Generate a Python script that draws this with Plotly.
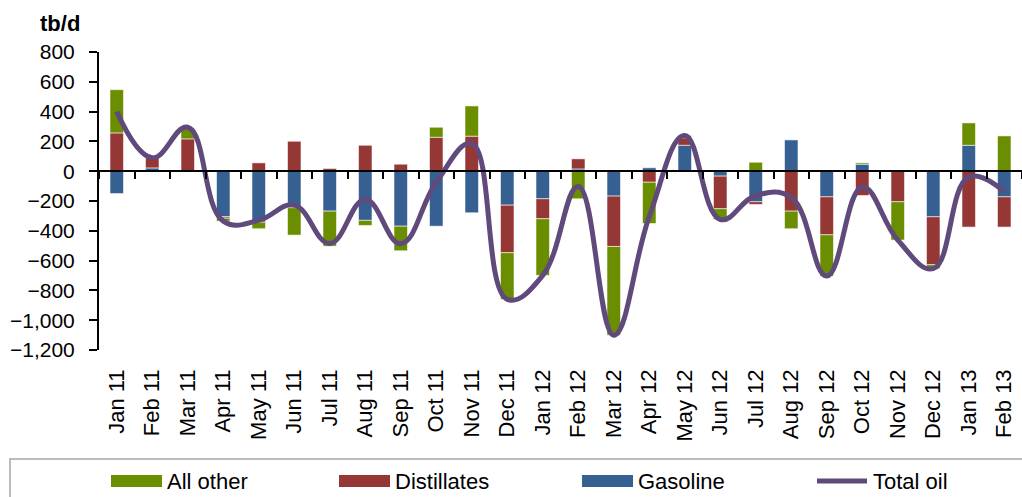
import plotly.graph_objects as go

categories = ["Jan 11", "Feb 11", "Mar 11", "Apr 11", "May 11", "Jun 11", "Jul 11", "Aug 11",
              "Sep 11", "Oct 11", "Nov 11", "Dec 11", "Jan 12", "Feb 12", "Mar 12", "Apr 12",
              "May 12", "Jun 12", "Jul 12", "Aug 12", "Sep 12", "Oct 12", "Nov 12", "Dec 12",
              "Jan 13", "Feb 13"]

gasoline = [-150, 22, 0, -305, -342, -245, -268, -330, -369, -369, -279, -228, -185,
            15, -167, 23, 174, -33, -205, 210, -172, 47, 0, -306, 174, -172]
distillates = [257, 68, 217, -10, 56, 201, 18, 174, 47, 228, 235, -319, -134,
               68, -338, -74, 50, -219, -18, -268, -255, -163, -205, -322, -375, -203]
all_other = [290, 5, 74, -20, -44, -184, -235, -34, -165, 67, 203, -313, -380,
             -185, -596, -277, 16, -72, 60, -118, -277, 9, -257, -26, 150, 237]
total_oil = [400, 90, 295, -335, -330, -228, -485, -190, -487, -74, 185, -860, -699,
             -102, -1101, -305, 240, -324, -163, -176, -704, -107, -462, -654, -40, -138]

y_ticks = [800, 600, 400, 200, 0, -200, -400, -600, -800, -1000, -1200]

C_GREEN = "#6A8E00"
C_RED = "#953735"
C_BLUE = "#366092"
C_PURPLE = "#604A7B"
FONT = "Arial, Liberation Sans, sans-serif"

W, H = 1022, 497
ML, MR, MT, MB = 99, 0, 52, 147
PW, PH = W - ML - MR, H - MT - MB


def px(xp):
    return (xp - ML) / PW


def py(yp):
    return (H - MB - yp) / PH


fig = go.Figure()
edge = dict(color="rgba(255,255,255,0.55)", width=1)
fig.add_trace(go.Bar(x=categories, y=gasoline, name="Gasoline", marker=dict(color=C_BLUE, line=edge),
                     showlegend=False))
fig.add_trace(go.Bar(x=categories, y=distillates, name="Distillates", marker=dict(color=C_RED, line=edge),
                     showlegend=False))
fig.add_trace(go.Bar(x=categories, y=all_other, name="All other", marker=dict(color=C_GREEN, line=edge),
                     showlegend=False))
fig.add_trace(go.Scatter(x=categories, y=total_oil, name="Total oil", mode="lines",
                         line=dict(color=C_PURPLE, width=5, shape="spline", smoothing=1.2),
                         showlegend=False))
# helper trace for the label axis at the bottom
fig.add_trace(go.Scatter(x=categories, y=[None] * len(categories), xaxis="x2", mode="lines",
                         showlegend=False, hoverinfo="skip"))

fig.update_layout(
    width=W, height=H,
    margin=dict(l=ML, r=MR, t=MT, b=MB),
    paper_bgcolor="white", plot_bgcolor="white",
    barmode="relative", bargap=0.62,
    font=dict(family=FONT, color="black", size=20),
    showlegend=False,
    xaxis=dict(
        type="category", categoryorder="array", categoryarray=categories,
        range=[-0.5, len(categories) - 0.5],
        anchor="free", position=1200 / 2000,
        showline=True, linecolor="black", linewidth=2,
        ticks="outside", tickson="boundaries", ticklen=7, tickwidth=2, tickcolor="black",
        showticklabels=False, showgrid=False, zeroline=False,
    ),
    xaxis2=dict(
        type="category", categoryorder="array", categoryarray=categories,
        range=[-0.5, len(categories) - 0.5],
        overlaying="x", anchor="y", side="bottom",
        showline=False, ticks="", showgrid=False, zeroline=False,
        tickangle=-90, tickfont=dict(size=22, family=FONT, color="black"),
        ticklabelstandoff=14,
    ),
    yaxis=dict(
        range=[-1200, 800], tickvals=y_ticks, tickformat=",",
        showline=True, linecolor="black", linewidth=2,
        ticks="outside", ticklen=8, tickwidth=2, tickcolor="black",
        showgrid=False, zeroline=False,
        tickfont=dict(size=21, family=FONT, color="black"),
        ticklabelstandoff=10,
    ),
)

# axis title
fig.add_annotation(text="<b>tb/d</b>", xref="paper", yref="paper", x=px(38), y=py(23),
                   xanchor="left", yanchor="middle", showarrow=False,
                   font=dict(size=22, family=FONT, color="black"))

# legend box
fig.add_shape(type="rect", xref="paper", yref="paper", x0=px(10), x1=px(1040), y0=py(459), y1=py(520),
              line=dict(color="#A6A6A6", width=1.5), fillcolor="rgba(0,0,0,0)", layer="above")

legend_items = [("All other", C_GREEN, 111, "bar"), ("Distillates", C_RED, 339, "bar"),
                ("Gasoline", C_BLUE, 582, "bar"), ("Total oil", C_PURPLE, 815, "line")]
for name, col, x0, kind in legend_items:
    if kind == "bar":
        fig.add_shape(type="rect", xref="paper", yref="paper", x0=px(x0), x1=px(x0 + 51),
                      y0=py(487), y1=py(475), line=dict(width=0), fillcolor=col)
        tx = x0 + 54
    else:
        fig.add_shape(type="line", xref="paper", yref="paper", x0=px(x0 + 2), x1=px(x0 + 52),
                      y0=py(481), y1=py(481), line=dict(color=col, width=5))
        tx = x0 + 56
    fig.add_annotation(text=name, xref="paper", yref="paper", x=px(tx), y=py(481),
                       xanchor="left", yanchor="middle", showarrow=False,
                       font=dict(size=22, family=FONT, color="black"))

fig.write_html("out.html", config={"displayModeBar": False},
               post_script="document.body.style.margin='0';document.body.style.overflow='hidden';")
